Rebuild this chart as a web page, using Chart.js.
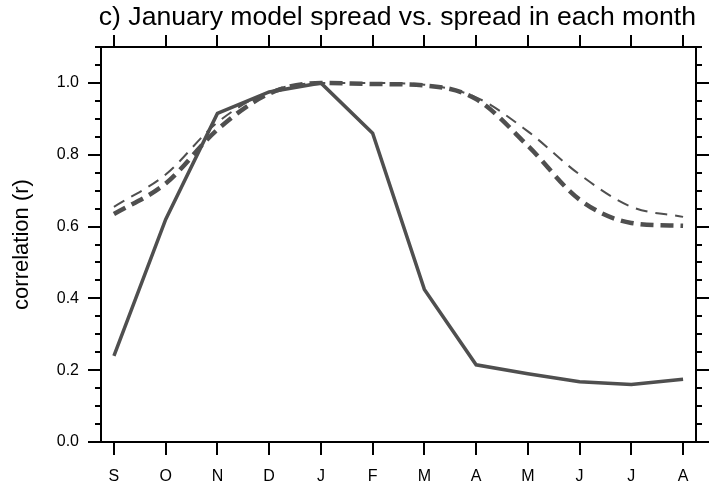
<!DOCTYPE html>
<html>
<head>
<meta charset="utf-8">
<script src="https://cdn.jsdelivr.net/npm/chart.js@4"></script>
<style>
  html, body { margin: 0; padding: 0; background: #fff; }
  #wrap { width: 718px; height: 485px; }
</style>
</head>
<body>
<div id="wrap"><canvas id="chart" width="718" height="485"></canvas></div>
<script>
// months Sep..Aug
const months = ['S', 'O', 'N', 'D', 'J', 'F', 'M', 'A', 'M', 'J', 'J', 'A'];
const yTicks = [0.0, 0.2, 0.4, 0.6, 0.8, 1.0];

// correlation with January spread
const solidSeries = [0.24, 0.62, 0.915, 0.975, 1.0, 0.86, 0.425, 0.215, 0.19, 0.168, 0.16, 0.175];
const thickDashSeries = [0.635, 0.72, 0.87, 0.97, 1.0, 0.997, 0.993, 0.955, 0.825, 0.675, 0.61, 0.602];
const thinDashSeries = [0.655, 0.745, 0.89, 0.975, 1.0, 1.0, 0.995, 0.96, 0.865, 0.745, 0.655, 0.627];

const lineColor = '#4f4f4f';
const fontFamily = '"Liberation Sans", Arial, Helvetica, sans-serif';

const toPoints = arr => arr.map((v, i) => ({ x: i, y: v }));

// NCL-style frame with outward ticks on all sides, minor ticks on y
const frameTicks = {
    id: 'frameTicks',
    afterDraw(chart) {
        const { ctx, chartArea: a, scales } = chart;
        const xs = scales.x, ys = scales.y;
        ctx.save();
        ctx.strokeStyle = '#000';
        ctx.lineWidth = 2;
        ctx.lineCap = 'butt';
        ctx.beginPath();
        ctx.rect(a.left, a.top, a.right - a.left, a.bottom - a.top);
        ctx.stroke();

        ctx.beginPath();
        months.forEach((m, i) => {
            const px = Math.round(xs.getPixelForValue(i));
            ctx.moveTo(px, a.bottom); ctx.lineTo(px, a.bottom + 13);
            ctx.moveTo(px, a.top); ctx.lineTo(px, a.top - 12);
        });
        for (let k = 0; k <= 22; k++) {
            const v = k * 0.05;
            const py = Math.round(ys.getPixelForValue(v));
            const major = k % 4 === 0 && v <= 1.0001;
            const len = major ? 13 : 6;
            ctx.moveTo(a.left, py); ctx.lineTo(a.left - len, py);
            ctx.moveTo(a.right, py); ctx.lineTo(a.right + len, py);
        }
        ctx.stroke();
        ctx.restore();
    }
};

const ctx = document.getElementById('chart').getContext('2d');
new Chart(ctx, {
    type: 'line',
    data: {
        datasets: [
            {
                label: 'thin dashed',
                data: toPoints(thinDashSeries),
                borderColor: lineColor,
                borderWidth: 2,
                borderDash: [12, 8],
                pointRadius: 0,
                tension: 0.35,
                cubicInterpolationMode: 'monotone'
            },
            {
                label: 'thick dashed',
                data: toPoints(thickDashSeries),
                borderColor: lineColor,
                borderWidth: 4.5,
                borderDash: [13, 7],
                pointRadius: 0,
                tension: 0.35,
                cubicInterpolationMode: 'monotone'
            },
            {
                label: 'solid',
                data: toPoints(solidSeries),
                borderColor: lineColor,
                borderWidth: 3.5,
                pointRadius: 0,
                tension: 0
            }
        ]
    },
    options: {
        responsive: false,
        animation: false,
        layout: { padding: { left: 0, right: 22, top: 0, bottom: 0 } },
        plugins: {
            legend: { display: false },
            tooltip: { enabled: false },
            title: {
                display: true,
                text: 'c) January model spread vs. spread in each month',
                align: 'end',
                color: '#000',
                font: { family: fontFamily, size: 26.6, weight: 'normal', lineHeight: 1.2 },
                padding: { top: 1.5, bottom: 13.6 }
            }
        },
        scales: {
            x: {
                type: 'linear',
                min: -0.25,
                max: 11.25,
                afterBuildTicks: s => { s.ticks = months.map((m, i) => ({ value: i })); },
                afterFit: s => { s.height = 43; },
                grid: { display: false, drawTicks: false },
                border: { display: false },
                ticks: {
                    color: '#000',
                    padding: 25,
                    maxRotation: 0,
                    autoSkip: false,
                    font: { family: fontFamily, size: 16 },
                    callback: v => months[v]
                }
            },
            y: {
                type: 'linear',
                min: 0,
                max: 1.1,
                afterBuildTicks: s => { s.ticks = yTicks.map(v => ({ value: v })); },
                afterFit: s => { s.width = 101; },
                grid: { display: false, drawTicks: false },
                border: { display: false },
                ticks: {
                    color: '#000',
                    padding: 22,
                    font: { family: fontFamily, size: 16 },
                    callback: v => Number(v).toFixed(1)
                },
                title: {
                    display: true,
                    text: 'correlation (r)',
                    color: '#000',
                    font: { family: fontFamily, size: 22 },
                    padding: { top: 9, bottom: 0 }
                }
            }
        }
    },
    plugins: [frameTicks]
});
</script>
</body>
</html>
